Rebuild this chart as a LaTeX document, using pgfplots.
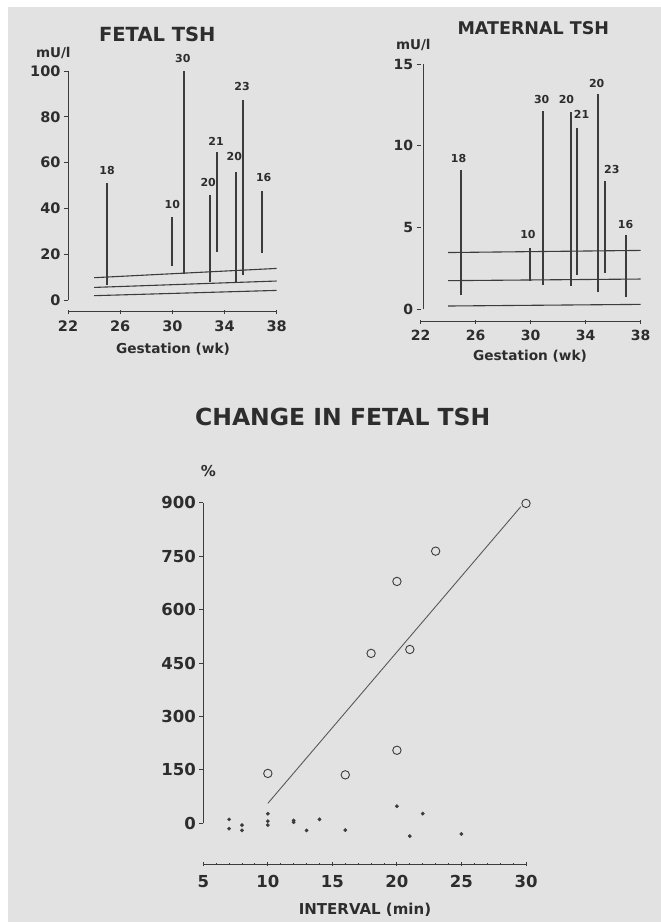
\documentclass[border=0pt]{standalone}
\usepackage{pgfplots}
\pgfplotsset{compat=1.18}
\usepackage{fontspec}
\setmainfont{DejaVu Sans}

\definecolor{paper}{RGB}{226,226,226}
\definecolor{ink}{RGB}{45,45,45}
\definecolor{linecol}{RGB}{60,60,60}

\pgfplotsset{
  scan/.style={
    scale only axis, anchor=south west, clip=false,
    axis x line=bottom, axis y line=left,
    axis line style={-, linecol, line width=0.9pt},
    y axis line style={draw=none},
    tick style={linecol, line width=0.9pt},
    major tick length=4pt,
    ytick align=outside, xtick align=center,
    /pgf/number format/assume math mode=true,
    ticklabel style={text=ink},
  },
  bar/.style={linecol, line width=1.9pt, unbounded coords=jump, mark=none},
  ref/.style={linecol, line width=1.1pt, mark=none},
}

\begin{document}
\begin{tikzpicture}[every node/.style={text=ink}]
\fill[paper] (0pt,0pt) rectangle (661pt,-922pt);
\fill[white] (0pt,0pt) rectangle (661pt,-7pt);
\fill[white] (0pt,0pt) rectangle (8pt,-922pt);

% ---------------- fetal TSH
\begin{axis}[scan,
  at={(68pt,-311.7pt)}, width=208.7pt, height=240.7pt,
  xmin=22, xmax=38, ymin=-5.1, ymax=100,
  xtick={22,26,30,34,38}, ytick={0,20,...,100},
  ticklabel style={font=\bfseries\fontsize{14.5}{16}\selectfont},
  xticklabel style={yshift=-3pt},
]
\draw[linecol, line width=0.9pt] (axis cs:22,0) -- (axis cs:22,100);
\addplot[bar] coordinates {
  (25,6.5) (25,51.2) (25,nan)
  (30,15.0) (30,36.4) (30,nan)
  (30.9,11.3) (30.9,100) (30.9,nan)
  (32.9,7.7) (32.9,45.7) (32.9,nan)
  (33.4,21.1) (33.4,64.7) (33.4,nan)
  (34.9,7.6) (34.9,55.9) (34.9,nan)
  (35.4,10.8) (35.4,87.3) (35.4,nan)
  (36.9,20.4) (36.9,47.7)
};
\addplot[ref] coordinates {(24,9.75) (38,13.8)};
\addplot[ref] coordinates {(24,5.5) (38,8.3)};
\addplot[ref] coordinates {(24,1.9) (38,4.2)};
\begin{scope}[every node/.style={text=ink, font=\bfseries\fontsize{11}{12}\selectfont}]
\node at (axis cs:25,56.7) {18};
\node at (axis cs:30,41.9) {10};
\node at (axis cs:30.8,105.5) {30};
\node at (axis cs:32.75,51.2) {20};
\node at (axis cs:33.35,69.4) {21};
\node at (axis cs:34.75,62.6) {20};
\node at (axis cs:35.35,93.4) {23};
\node at (axis cs:37.0,53.4) {16};
\end{scope}
\end{axis}
\node[font=\bfseries\fontsize{19.5}{22}\selectfont] at (157.3pt,-34pt) {FETAL TSH};
\node[font=\bfseries\fontsize{13.5}{15}\selectfont] at (53.3pt,-52.7pt) {mU/l};
\node[font=\bfseries\fontsize{13.7}{15}\selectfont] at (173pt,-349pt) {Gestation (wk)};

% ---------------- maternal TSH
\begin{axis}[scan,
  at={(420.7pt,-321.7pt)}, width=220pt, height=257.7pt,
  xmin=22, xmax=38, ymin=-0.76, ymax=15,
  xtick={22,26,30,34,38}, ytick={0,5,10,15},
  ticklabel style={font=\bfseries\fontsize{14}{16}\selectfont},
  xticklabel style={yshift=-3pt},
]
\draw[linecol, line width=0.9pt] (axis cs:22.2,0) -- (axis cs:22.2,15);
\addplot[bar] coordinates {
  (24.93,0.88) (24.93,8.53) (24.93,nan)
  (29.95,1.73) (29.95,3.73) (29.95,nan)
  (30.9,1.49) (30.9,12.1) (30.9,nan)
  (32.9,1.43) (32.9,12.04) (32.9,nan)
  (33.37,2.1) (33.37,11.1) (33.37,nan)
  (34.9,1.04) (34.9,13.16) (34.9,nan)
  (35.4,2.24) (35.4,7.85) (35.4,nan)
  (36.9,0.78) (36.9,4.55)
};
\addplot[ref] coordinates {(24,3.47) (38,3.6)};
\addplot[ref] coordinates {(24,1.75) (38,1.85)};
\addplot[ref] coordinates {(24,0.2) (38,0.3)};
\begin{scope}[every node/.style={text=ink, font=\bfseries\fontsize{11}{12}\selectfont}]
\node at (axis cs:24.75,9.24) {18};
\node at (axis cs:29.8,4.55) {10};
\node at (axis cs:30.8,12.8) {30};
\node at (axis cs:32.6,12.8) {20};
\node at (axis cs:33.7,11.9) {21};
\node at (axis cs:34.8,13.8) {20};
\node at (axis cs:35.9,8.57) {23};
\node at (axis cs:36.9,5.16) {16};
\end{scope}
\end{axis}
\node[font=\bfseries\fontsize{17.5}{20}\selectfont] at (533.3pt,-28.3pt) {MATERNAL TSH};
\node[font=\bfseries\fontsize{13.5}{15}\selectfont] at (413.3pt,-45pt) {mU/l};
\node[font=\bfseries\fontsize{13.7}{15}\selectfont] at (530pt,-356pt) {Gestation (wk)};

% ---------------- change in fetal TSH
\begin{axis}[scan,
  at={(203.3pt,-864pt)}, width=322.7pt, height=361.3pt,
  xmin=5, xmax=30, ymin=-114.3, ymax=900,
  xtick={5,10,...,30}, ytick={0,150,...,900},
  minor x tick num=4, minor tick length=2pt,
  ticklabel style={font=\bfseries\fontsize{16.5}{18}\selectfont},
  xticklabel style={yshift=-6pt},
]
\draw[linecol, line width=0.9pt] (axis cs:5,0) -- (axis cs:5,900);
\addplot[linecol!85, line width=0.9pt, mark=none] coordinates {(10,56) (29.6,889)};
\addplot[only marks, mark=o, mark size=4.2pt, linecol, mark options={line width=0.9pt}]
  coordinates {(10,140) (16,136) (20,205) (18,477) (21,488) (20,679) (23,764) (30,898)};
\addplot[only marks, mark=*, mark size=1.7pt, linecol]
  coordinates {(7,11) (7,-15) (8,-5) (8,-20) (10,27) (10,6) (10,-5) (12,8) (12,3)
               (13,-20) (14,11) (16,-19) (20,48) (21,-36) (22,27) (25,-30)};
\end{axis}
\node[font=\bfseries\fontsize{23.5}{26}\selectfont] at (342.7pt,-416.7pt) {CHANGE IN FETAL TSH};
\node[font=\bfseries\fontsize{15}{17}\selectfont] at (208.3pt,-470.7pt) {\%};
\node[font=\bfseries\fontsize{15}{17}\selectfont] at (365pt,-910pt) {INTERVAL (min)};
\end{tikzpicture}
\end{document}
